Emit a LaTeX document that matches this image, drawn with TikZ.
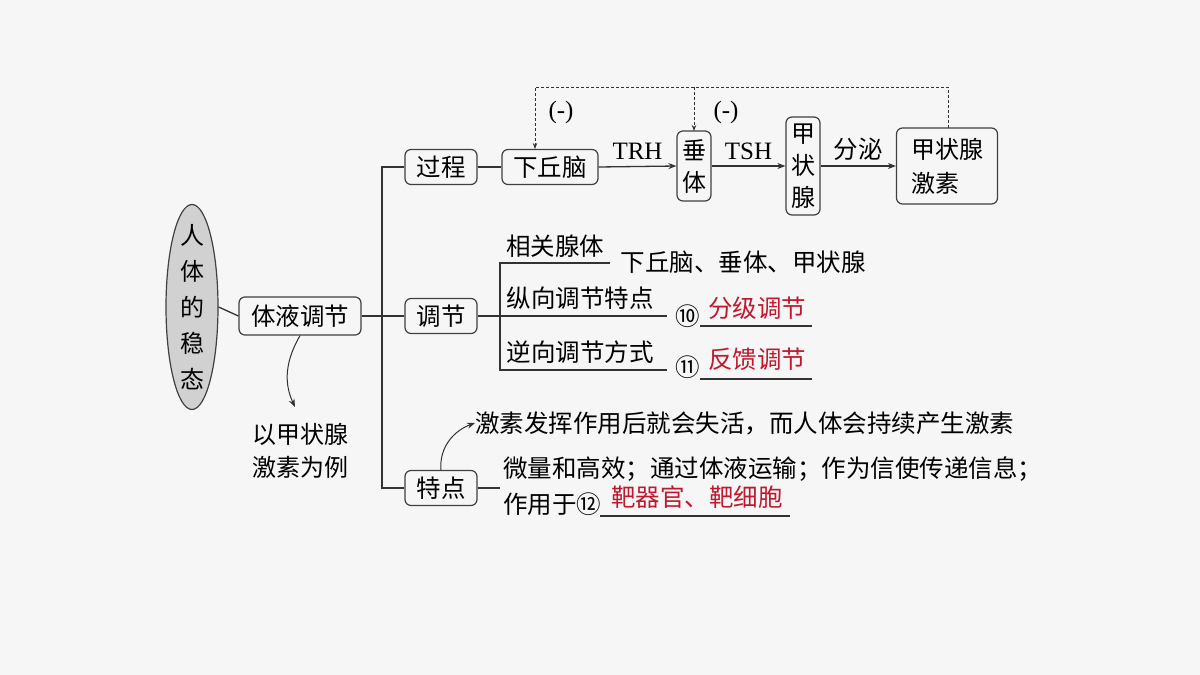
\documentclass[tikz,border=0pt]{standalone}
\usepackage{fontspec}
\setmainfont{Noto Sans CJK SC}
\newfontfamily\lat{Liberation Serif}
\usetikzlibrary{shapes.geometric,arrows.meta}
\definecolor{bg}{HTML}{F6F6F6}
\definecolor{ans}{HTML}{C0182E}
\begin{document}
\begin{tikzpicture}[x=1pt,y=-1pt,
  every node/.style={font=\fontsize{24.5}{28}\selectfont, inner sep=0pt},
  box/.style={draw=black!75, line width=1.2pt, rounded corners=6pt, minimum height=35pt},
  ln/.style={draw=black!80, line width=1.3pt},
  arr/.style={ln, -{Stealth[length=8pt,width=6pt]}},
  dsh/.style={draw=black!80, line width=1pt, dash pattern=on 3pt off 2pt, -{Stealth[length=6pt,width=4.5pt]}},
  ans/.style={text=ans},
  lbl/.style={font=\lat\fontsize{25}{28}\selectfont}]
\fill[bg] (0,0) rectangle (1200,675);
\useasboundingbox (0,0) rectangle (1200,675);
\node[ellipse, draw=black!75, line width=1.2pt, fill=black!18, minimum width=52pt, minimum height=205pt] (root) at (192,307) {};
\node[align=center, font=\fontsize{24}{36}\selectfont] at (192,307) {人\\体\\的\\稳\\态};
\node[box, minimum width=122pt, minimum height=38pt] (ty) at (300,316) {体液调节};
\node[box, minimum width=72pt] (gc) at (441,167) {过程};
\node[box, minimum width=72pt] (tj) at (441,316) {调节};
\node[box, minimum width=72pt] (td) at (441,488) {特点};
\node[box, minimum width=96pt] (xqn) at (550,167) {下丘脑};
\node[box, minimum width=34pt, minimum height=70pt, align=center, font=\fontsize{24}{32}\selectfont] (ct) at (694,166) {垂\\体};
\node[box, minimum width=34pt, minimum height=98pt, align=center, font=\fontsize{24}{32}\selectfont] (jzx) at (803,166) {甲\\状\\腺};
\node[box, minimum width=101pt, minimum height=76pt, align=left, font=\fontsize{24}{34}\selectfont] (js) at (947,166) {甲状腺\\激素};
\coordinate (b0) at (382,316);
\draw[ln] (root.east) -- (ty.west);
\draw[ln] (ty.east) -- (b0);
\draw[ln] (gc.west) -- (382,167) -- (382,488) -- (td.west);
\draw[ln] (b0) -- (tj.west);
\draw[ln] (gc.east) -- (xqn.west);
\draw[arr] (xqn.east) -- (ct.west) node[midway, above=6pt, lbl] {TRH};
\draw[arr] (ct.east) -- (jzx.west) node[midway, above=6pt, lbl] {TSH};
\draw[arr] (jzx.east) -- (js.west) node[midway, above=5pt] {分泌};
\draw[dsh] (948,128) -- (948,87) -- (535,87) -- (535,149);
\draw[dsh] (694,87) -- (694,131);
\node[lbl] at (561,112) {(-)};
\node[lbl] at (726,112) {(-)};
% regulation branch
\coordinate (c0) at (500,316);
\draw[ln] (tj.east) -- (c0);
\draw[ln] (610,263) -- (500,263) -- (500,370) -- (667,370);
\draw[ln] (c0) -- (667,316);
\node (t1) at (555,246) {相关腺体};
\node (t2) at (743,262) {下丘脑、垂体、甲状腺};
\node (t3) at (580,298) {纵向调节特点};
\node (t4) at (580,352) {逆向调节方式};
\node (n10) at (688,316) {⑩};
\node[ans] (a10) at (757,308) {分级调节};
\draw[ln] (700,326) -- (812,326);
\node (n11) at (688,367) {⑪};
\node[ans] (a11) at (757,359) {反馈调节};
\draw[ln] (700,379) -- (812,379);
% features
\coordinate (d0) at (500,488);
\draw[ln] (td.east) -- (d0);
\node[anchor=west] (f1) at (503,469) {微量和高效；通过体液运输；作为信使传递信息；};
\node[anchor=west] (f2) at (503,504) {作用于⑫};
\node[ans] (a12) at (697,497) {靶器官、靶细胞};
\draw[ln] (600,516) -- (790,516);
\node[anchor=west] (f0) at (475,423) {激素发挥作用后就会失活，而人体会持续产生激素};
\draw[arr, line width=1pt] (td.north) to[out=95, in=200] (f0.west);
\node[align=center, font=\fontsize{24}{33}\selectfont] (ex) at (300,451) {以甲状腺\\激素为例};
\draw[arr, line width=1pt] (ty.south) to[out=240, in=115] (295,407);
\end{tikzpicture}
\end{document}
